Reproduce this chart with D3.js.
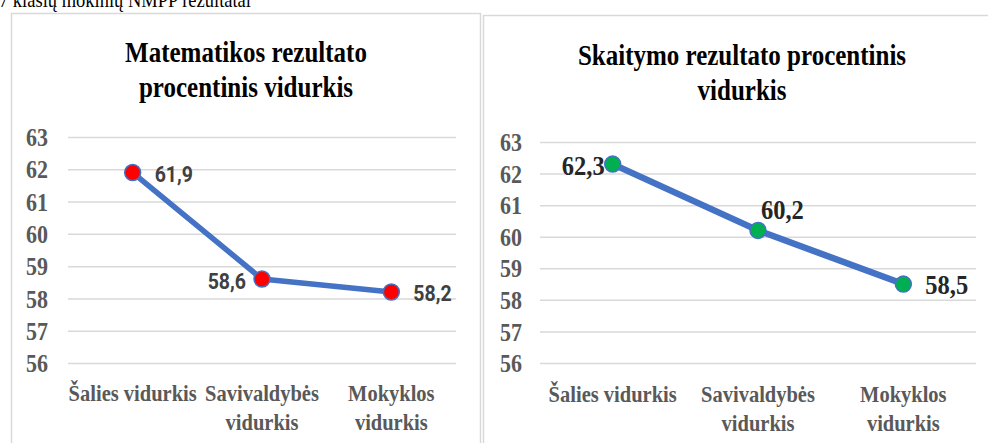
<!DOCTYPE html>
<html>
<head>
<meta charset="utf-8">
<script src="https://cdn.jsdelivr.net/npm/d3@7"></script>
<style>
  body { margin: 0; background: #fff; }
  svg { display: block; }
</style>
</head>
<body>
<div id="chart"></div>
<script>
// data
const categories = ["Šalies vidurkis", "Savivaldybės vidurkis", "Mokyklos vidurkis"];
const mathValues = [61.9, 58.6, 58.2];
const readValues = [62.3, 60.2, 58.5];
const yTicks = [56, 57, 58, 59, 60, 61, 62, 63];
const pageHeading = "7 klasių mokinių NMPP rezultatai";
const mathTitle = ["Matematikos rezultato", "procentinis vidurkis"];
const readTitle = ["Skaitymo rezultato procentinis", "vidurkis"];

// Env params
const width = 988;
const height = 443;
const stretch = 1.15; // text in the picture is a bit taller than wide

var svg = d3.select('#chart').append('svg')
  .attr('width', width)
  .attr('height', height)
  .style('background', '#fff');

// heading of the page, cut off at the top like in the source
svg.append('text')
  .attr('transform', `translate(-1, 7) scale(1, ${stretch})`)
  .style('font', "18.5px 'Liberation Serif'")
  .attr('fill', '#000')
  .text(pageHeading);

// panel settings
const panels = [
  {
    box: [11.5, 13.5, 469, 440], cx: 246, titleY: 62, title: mathTitle,
    x0: 68, x1: 456, yBottom: 363, yTop: 137, pad: 20, catY: 401,
    values: mathValues, lineWidth: 5.5, fill: '#FF0000',
    labelFont: "bold 19.5px Roboto", labelColor: '#404040',
    sides: ['right', 'left', 'right'],
    offsets: { right: [22, 9], left: [-16, 9.5], above: [3, -11] }
  },
  {
    box: [483.5, 15.5, 520, 440], cx: 742, titleY: 65, title: readTitle,
    x0: 540, x1: 976, yBottom: 363, yTop: 142, pad: 18, catY: 402,
    values: readValues, lineWidth: 6.5, fill: '#00B050',
    labelFont: "bold 24.5px 'Liberation Serif'", labelColor: '#262626',
    sides: ['left', 'above', 'right'],
    offsets: { right: [22, 10], left: [-8, 11], above: [3, -11] }
  }
];

panels.forEach(draw_panel);

function draw_panel(p)
{
  // frame
  svg.append('rect')
    .attr('x', p.box[0])
    .attr('y', p.box[1])
    .attr('width', p.box[2])
    .attr('height', p.box[3])
    .attr('fill', 'none')
    .attr('stroke', '#d9d9d9')
    .attr('stroke-width', 1.5);

  // title
  var title = svg.append('text')
    .attr('transform', `translate(${p.cx}, ${p.titleY}) scale(1, ${stretch})`)
    .attr('text-anchor', 'middle')
    .attr('fill', '#000')
    .style('font', "bold 25px 'Liberation Serif'");
  p.title.forEach((line, i) => {
    title.append('tspan').attr('x', 0).attr('y', i * 35 / stretch).text(line);
  });

  var x = d3.scaleBand().domain(categories).range([p.x0, p.x1]);
  var y = d3.scaleLinear().domain([56, 63]).range([p.yBottom, p.yTop]);

  // y axis + gridlines
  var gy = svg.append('g')
    .attr('transform', `translate(${p.x0}, 0)`)
    .call(d3.axisLeft(y)
      .tickValues(yTicks)
      .tickSize(-(p.x1 - p.x0))
      .tickPadding(p.pad)
      .tickFormat(d3.format('d')));
  gy.select('.domain').remove();
  gy.selectAll('.tick line')
    .attr('stroke', '#d9d9d9')
    .attr('stroke-width', 1.5);
  gy.selectAll('.tick text')
    .attr('fill', '#595959')
    .attr('dy', '0.34em')
    .attr('transform', `scale(1, ${stretch})`)
    .style('font', "bold 22px 'Liberation Serif'");

  // category axis
  var gx = svg.append('g')
    .attr('transform', `translate(0, ${p.catY})`)
    .call(d3.axisBottom(x).tickSize(0).tickPadding(0));
  gx.select('.domain').remove();
  gx.selectAll('.tick text')
    .attr('fill', '#595959')
    .attr('y', 0)
    .attr('dy', 0)
    .attr('transform', `scale(1, ${stretch})`)
    .style('font', "bold 20.5px 'Liberation Serif'")
    .each(function() { wrap(d3.select(this), x.bandwidth() + 6); });

  // line
  var px = (d, i) => x(categories[i]) + x.bandwidth() / 2;
  var line = d3.line().x(px).y(d => y(d));

  svg.append('path')
    .datum(p.values)
    .attr('d', line)
    .attr('fill', 'none')
    .attr('stroke', '#4472C4')
    .attr('stroke-width', p.lineWidth)
    .attr('stroke-linejoin', 'round');

  svg.selectAll(null)
    .data(p.values)
    .enter().append('circle')
    .attr('cx', px)
    .attr('cy', d => y(d))
    .attr('r', 8)
    .attr('fill', p.fill)
    .attr('stroke', '#4472C4')
    .attr('stroke-width', 1.5);

  // data labels
  svg.selectAll(null)
    .data(p.values)
    .enter().append('text')
    .attr('transform', (d, i) => {
      var o = p.offsets[p.sides[i]];
      return `translate(${px(d, i) + o[0]}, ${y(d) + o[1]}) scale(1, ${stretch})`;
    })
    .attr('text-anchor', (d, i) => p.sides[i] === 'left' ? 'end' : 'start')
    .attr('fill', p.labelColor)
    .style('font', p.labelFont)
    .text(d => d3.format('.1f')(d).replace('.', ','));
}

// wrap category text like the spreadsheet does
function wrap(text, maxWidth)
{
  var words = text.text().split(' ');
  text.text(null);
  var lines = [];
  var cur = [];
  var probe = text.append('tspan');
  words.forEach(w => {
    var test = cur.concat([w]).join(' ');
    probe.text(test);
    if (probe.node().getComputedTextLength() > maxWidth && cur.length) {
      lines.push(cur.join(' '));
      cur = [w];
    } else {
      cur.push(w);
    }
  });
  lines.push(cur.join(' '));
  probe.remove();
  lines.forEach((l, i) => {
    text.append('tspan')
      .attr('x', 0)
      .attr('y', i * 29 / stretch)
      .text(l);
  });
}
</script>
</body>
</html>
